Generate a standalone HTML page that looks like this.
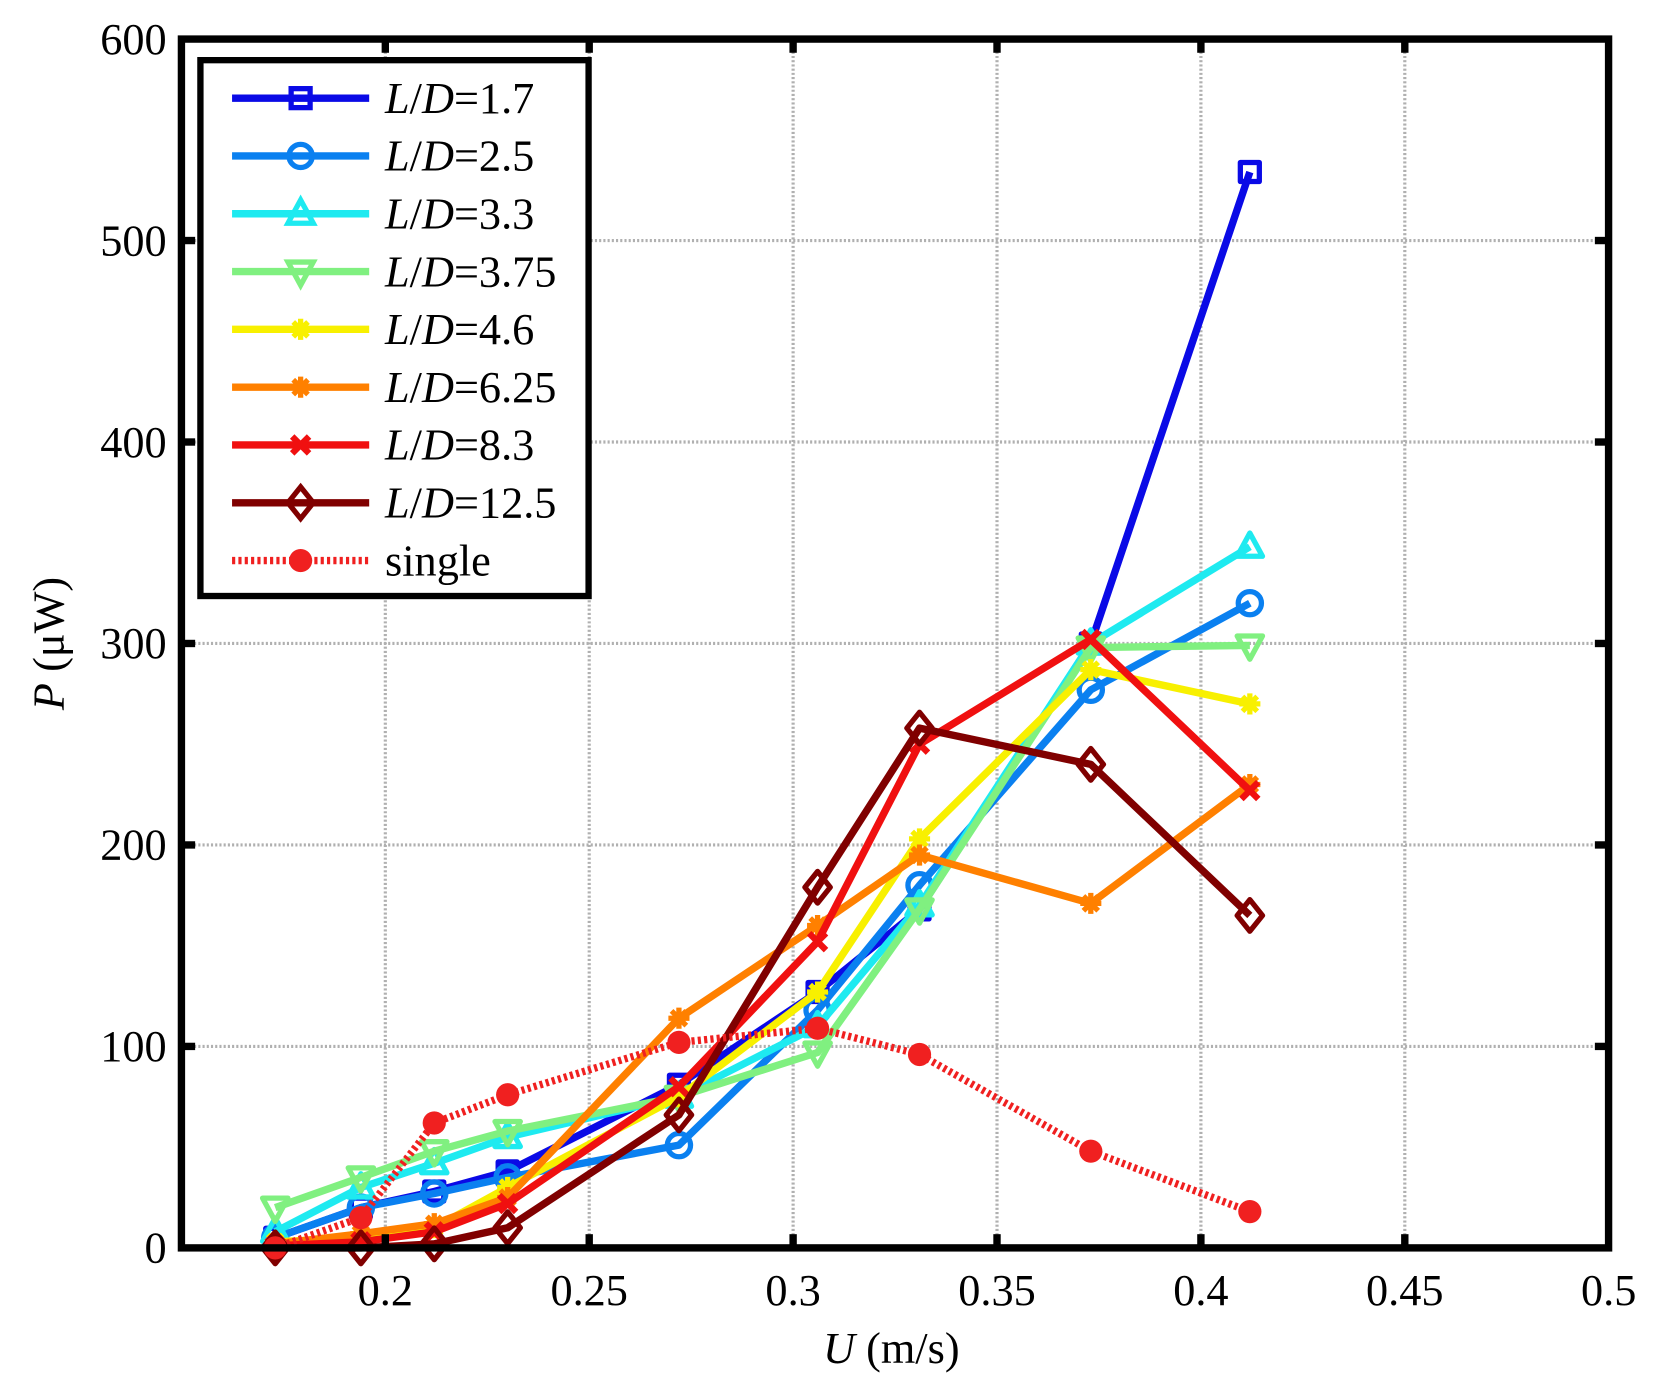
<!DOCTYPE html>
<html><head><meta charset="utf-8"><style>html,body{margin:0;padding:0;background:#fff}svg{display:block}</style></head>
<body>
<svg id="s" width="1655" height="1384" viewBox="0 0 1569 1312" xmlns="http://www.w3.org/2000/svg" font-family="Liberation Serif, serif">
<rect width="1569" height="1312" fill="#fff"/>
<g id="grid" stroke="#b0b0b0" stroke-width="3" stroke-dasharray="2,2"></g>
<g id="series" stroke-linejoin="round"></g>
<rect x="172" y="37" width="1353" height="1146" fill="none" stroke="#000" stroke-width="7"/>
<g id="ticks" stroke="#000" stroke-width="7"></g>
<g id="labels" font-size="42" fill="#000"></g>
<text x="845" y="1292" font-size="42" text-anchor="middle"><tspan font-style="italic">U</tspan> (m/s)</text>
<text transform="translate(60,610) rotate(-90)" font-size="42" text-anchor="middle"><tspan font-style="italic">P</tspan> (μW)</text>
<rect x="190" y="57" width="368" height="508" fill="#fff" stroke="#000" stroke-width="6"/>
<g id="legend"></g>
</svg>
<script>
const NS="http://www.w3.org/2000/svg";
function el(p,t,a){const e=document.createElementNS(NS,t);for(const k in a)e.setAttribute(k,a[k]);p.appendChild(e);return e;}
const X=v=>172+(v-0.15)/0.05*193.3, Y=v=>1183-v*1.91;
const g=document.getElementById('grid'),tk=document.getElementById('ticks'),lb=document.getElementById('labels');
for(let i=1;i<=7;i++){const v=0.15+i*0.05,x=X(v);
 if(i<7){ el(g,'line',{x1:x,y1:37,x2:x,y2:1183});
 el(tk,'line',{x1:x,y1:1183,x2:x,y2:1170});el(tk,'line',{x1:x,y1:37,x2:x,y2:50});}
 const t=el(lb,'text',{x:x,y:1237,'text-anchor':'middle'});t.textContent=(Math.round(v*100)/100).toString();}
for(let i=0;i<=6;i++){const y=Y(i*100);
 if(i>0&&i<6) el(g,'line',{x1:172,y1:y,x2:1525,y2:y});
 if(i>0&&i<6){el(tk,'line',{x1:172,y1:y,x2:185,y2:y});el(tk,'line',{x1:1525,y1:y,x2:1512,y2:y});}
 const t=el(lb,'text',{x:158,y:y+14,'text-anchor':'end'});t.textContent=i*100;}
const xs=[0.173,0.194,0.212,0.230,0.272,0.306,0.331,0.373,0.412];
const S=[
["1.7","#0a0ae6","sq",[5,20,28,38,81,127,168,300,534]],
["2.5","#0a80f0","ci",[5,20,27,35,51,118,180,277,320]],
["3.3","#1eeaf0","tu",[8,30,42,55,75,110,170,300,348]],
["3.75","#80f080","td",[20,35,48,58,75,97,168,298,299]],
["4.6","#f8f000","st",[3,5,10,30,75,127,203,287,270]],
["6.25","#ff8000","st",[2,7,12,25,114,160,195,171,230]],
["8.3","#f01010","x",[1,3,8,22,80,152,250,302,227]],
["12.5","#800000","di",[0,0,2,10,66,179,258,240,165]],
["single","#f02020","dot",[0,15,62,76,102,109,96,48,18]]];
function marker(p,t,x,y,c){
 const a={fill:'none',stroke:c,'stroke-width':5};
 if(t=='sq')el(p,'rect',Object.assign({x:x-9,y:y-9,width:18,height:18},a));
 else if(t=='ci')el(p,'circle',Object.assign({cx:x,cy:y,r:11},a));
 else if(t=='tu')el(p,'polygon',Object.assign({points:`${x},${y-13} ${x+12},${y+9} ${x-12},${y+9}`},a));
 else if(t=='td')el(p,'polygon',Object.assign({points:`${x},${y+13} ${x+12},${y-9} ${x-12},${y-9}`},a));
 else if(t=='di')el(p,'polygon',Object.assign({points:`${x},${y-15} ${x+12},${y} ${x},${y+15} ${x-12},${y}`},a));
 else if(t=='st'){el(p,'path',Object.assign({d:`M${x-10} ${y}H${x+10}M${x} ${y-10}V${y+10}M${x-7} ${y-7}L${x+7} ${y+7}M${x-7} ${y+7}L${x+7} ${y-7}`},a));}
 else if(t=='x'){el(p,'path',Object.assign({d:`M${x-8} ${y-8}L${x+8} ${y+8}M${x-8} ${y+8}L${x+8} ${y-8}`},a,{'stroke-width':6}));}
 else if(t=='dot')el(p,'circle',{cx:x,cy:y,r:11,fill:c});
}
const sg=document.getElementById('series'),lg=document.getElementById('legend');
S.forEach((s,i)=>{
 const pts=s[3].map((v,j)=>X(xs[j])+','+Y(v)).join(' ');
 const la={points:pts,fill:'none',stroke:s[1],'stroke-width':7};
 if(s[2]=='dot'){la['stroke-dasharray']='3,3';}
 el(sg,'polyline',la);
 s[3].forEach((v,j)=>marker(sg,s[2],X(xs[j]),Y(v),s[1]));
 const ly=93+i*54.8;
 const ll={x1:220,y1:ly,x2:350,y2:ly,stroke:s[1],'stroke-width':7};
 if(s[2]=='dot')ll['stroke-dasharray']='3,3';
 el(lg,'line',ll);marker(lg,s[2],285,ly,s[1]);
 const t=el(lg,'text',{x:365,y:ly+14,'font-size':42});
 if(s[0]=='single')t.textContent='single';
 else t.innerHTML='<tspan font-style="italic">L</tspan>/<tspan font-style="italic">D</tspan>='+s[0];
});
</script>
</body></html>
